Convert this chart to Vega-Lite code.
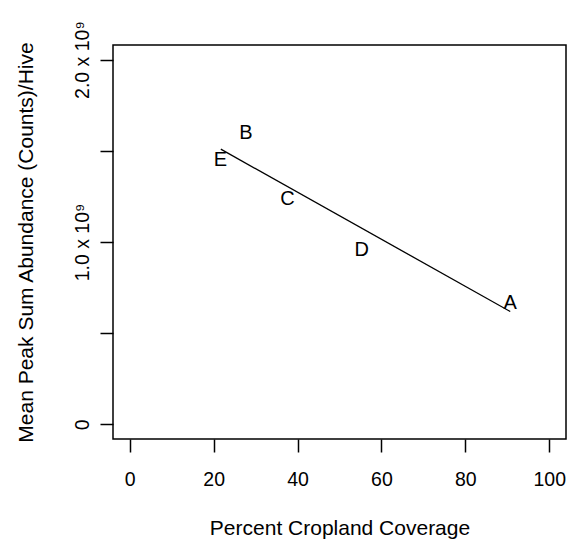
{
  "$schema": "https://vega.github.io/schema/vega-lite/v6.json",
  "width": 453,
  "height": 394,
  "autosize": "none",
  "padding": {"left": 113, "top": 45, "right": 5, "bottom": 100},
  "background": "white",
  "config": {
    "font": "Liberation Sans",
    "view": {"stroke": "black", "strokeWidth": 1.5},
    "axis": {
      "domain": false,
      "grid": false,
      "tickColor": "black",
      "tickWidth": 1.5,
      "tickSize": 13,
      "labelColor": "black",
      "labelFont": "Liberation Sans",
      "labelFontSize": 19.5,
      "labelOverlap": false,
      "labelFlush": false,
      "titleColor": "black",
      "titleFont": "Liberation Sans",
      "titleFontSize": 21,
      "titleFontWeight": "normal"
    }
  },
  "datasets": {
    "sites": [
      {"site": "A", "cropland": 90.7, "abundance": 664000000},
      {"site": "B", "cropland": 27.7, "abundance": 1597000000},
      {"site": "C", "cropland": 37.6, "abundance": 1237000000},
      {"site": "D", "cropland": 55.3, "abundance": 957000000},
      {"site": "E", "cropland": 21.6, "abundance": 1447000000}
    ],
    "fit": [
      {"cropland": 21.7, "abundance": 1509000000},
      {"cropland": 90.7, "abundance": 619000000}
    ]
  },
  "layer": [
    {
      "data": {"name": "fit"},
      "mark": {"type": "line", "color": "black", "strokeWidth": 1.3},
      "encoding": {
        "x": {
          "field": "cropland",
          "type": "quantitative",
          "scale": {"domain": [-4, 104], "nice": false, "zero": false},
          "axis": {
            "values": [0, 20, 40, 60, 80, 100],
            "labelBaseline": "alphabetic",
            "labelPadding": 33,
            "title": "Percent Cropland Coverage",
            "titleX": 226.5,
            "titleY": 95.3,
            "titleBaseline": "alphabetic",
            "titleAlign": "center"
          }
        },
        "y": {
          "field": "abundance",
          "type": "quantitative",
          "scale": {"domain": [-80000000, 2080000000], "nice": false, "zero": false},
          "axis": {
            "values": [0, 500000000, 1000000000, 1500000000, 2000000000],
            "labelExpr": "datum.value == 0 ? '0' : datum.value == 1000000000 ? '1.0 x 10⁹' : datum.value == 2000000000 ? '2.0 x 10⁹' : ''",
            "labelAngle": -90,
            "labelAlign": "center",
            "labelBaseline": "alphabetic",
            "labelPadding": 12,
            "title": "Mean Peak Sum Abundance (Counts)/Hive",
            "titleAngle": -90,
            "titleX": -81,
            "titleY": 197,
            "titleBaseline": "alphabetic",
            "titleAlign": "center"
          }
        }
      }
    },
    {
      "data": {"name": "sites"},
      "mark": {"type": "text", "fontSize": 20, "font": "Liberation Sans", "baseline": "middle", "align": "center", "color": "black"},
      "encoding": {
        "x": {"field": "cropland", "type": "quantitative"},
        "y": {"field": "abundance", "type": "quantitative"},
        "text": {"field": "site"}
      }
    }
  ]
}
